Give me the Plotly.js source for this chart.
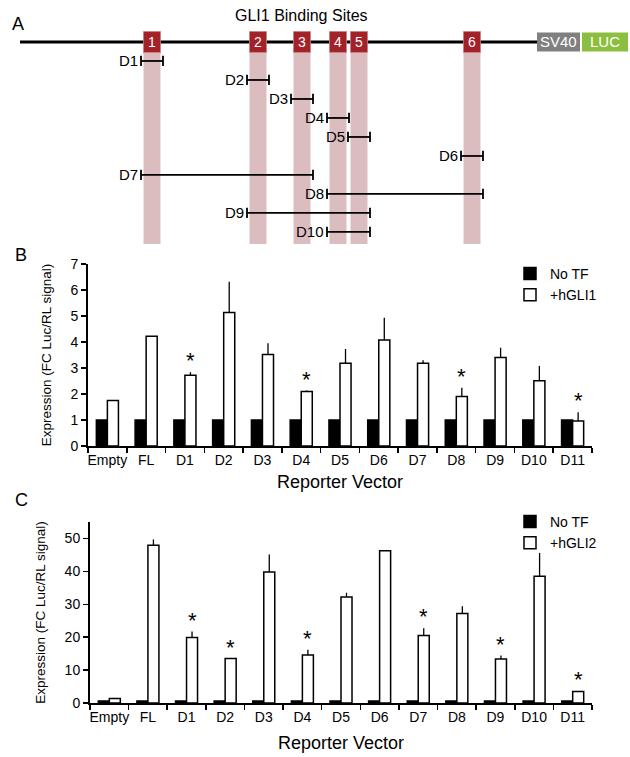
<!DOCTYPE html>
<html>
<head>
<meta charset="utf-8">
<script src="https://cdn.plot.ly/plotly-3.0.1.min.js"></script>
<style>html,body{margin:0;padding:0;background:#fff;}#chart{width:630px;height:757px;}</style>
</head>
<body>
<div id="chart"></div>
<script>
// ---------- DATA ----------
const categories = ['Empty','FL','D1','D2','D3','D4','D5','D6','D7','D8','D9','D10','D11'];

// Panel B: hGLI1
const noTF_B   = [1,1,1,1,1,1,1,1,1,1,1,1,1];
const gli1     = [1.75,4.22,2.72,5.13,3.52,2.10,3.18,4.08,3.18,1.90,3.40,2.51,0.96];
const gli1Err  = [0,0,0.12,1.19,0.43,0.03,0.55,0.85,0.12,0.34,0.38,0.57,0.34];
const gli1Sig  = [0,0,1,0,0,1,0,0,0,1,0,0,1];

// Panel C: hGLI2
const noTF_C   = [0.6,0.6,0.6,0.6,0.6,0.6,0.6,0.6,0.6,0.6,0.6,0.6,0.6];
const gli2     = [1.4,47.9,19.9,13.5,39.8,14.6,32.2,46.3,20.5,27.2,13.4,38.5,3.5];
const gli2Err  = [0,1.8,1.8,0,5.3,1.6,1.3,0.2,2.2,2.2,1.0,7.1,0];
const gli2Sig  = [0,0,1,1,0,1,0,0,1,0,1,0,1];

// Panel A: construct schematic (arbitrary construct units)
const siteNames   = ['1','2','3','4','5','6'];
const sitePos     = [132,238,282,318,339,452];
const backboneLen = 517;
const elementNames = ['SV40','LUC'];
const elementStart = [517,562];
const elementEnd   = [560,608];
const segNames  = ['D1','D2','D3','D4','D5','D6','D7','D8','D9','D10'];
const segFirst  = [1,2,3,4,5,6,1,4,2,4];
const segLast   = [1,2,3,4,5,6,3,6,5,5];

// ---------- STYLE ----------
const FONT = '"Liberation Sans", Arial, sans-serif';
const W = 630, H = 757;
const boxHalfW = 8.5, segPad = 11, capH = 0.27, boxHalfH = 0.55, bandBottom = 10.63;
const elementColors = ['#808080','#8cbf3f'];

const shapes = [];
const annotations = [];

// backbone
shapes.push({type:'line', xref:'x3', yref:'y3', x0:0, x1:backboneLen, y0:0, y1:0, line:{color:'#000', width:3}});
// bands + boxes
sitePos.forEach((p,i)=>{
  shapes.push({type:'rect', xref:'x3', yref:'y3', x0:p-boxHalfW, x1:p+boxHalfW, y0:boxHalfH, y1:bandBottom, fillcolor:'#dcbdbf', line:{width:0}, layer:'below'});
  shapes.push({type:'rect', xref:'x3', yref:'y3', x0:p-boxHalfW, x1:p+boxHalfW, y0:-boxHalfH, y1:boxHalfH, fillcolor:'#a3222a', line:{color:'#c97d80', width:0.8}});
  annotations.push({xref:'x3', yref:'y3', x:p, y:0, text:siteNames[i], showarrow:false, font:{family:FONT, size:14, color:'#fff'}});
});
// SV40 / LUC
elementNames.forEach((n,i)=>{
  shapes.push({type:'rect', xref:'x3', yref:'y3', x0:elementStart[i], x1:elementEnd[i], y0:-0.5, y1:0.5, fillcolor:elementColors[i], line:{width:0}});
  annotations.push({xref:'x3', yref:'y3', x:(elementStart[i]+elementEnd[i])/2, y:0, text:n, showarrow:false, font:{family:FONT, size:15, color:'#fff'}});
});
// deletion segments
segNames.forEach((n,i)=>{
  const row = i+1;
  const x0 = sitePos[segFirst[i]-1]-segPad, x1 = sitePos[segLast[i]-1]+segPad;
  shapes.push({type:'line', xref:'x3', yref:'y3', x0:x0, x1:x1, y0:row, y1:row, line:{color:'#000', width:1.8}});
  shapes.push({type:'line', xref:'x3', yref:'y3', x0:x0, x1:x0, y0:row-capH, y1:row+capH, line:{color:'#000', width:1.8}});
  shapes.push({type:'line', xref:'x3', yref:'y3', x0:x1, x1:x1, y0:row-capH, y1:row+capH, line:{color:'#000', width:1.8}});
  annotations.push({xref:'x3', yref:'y3', x:x0-1, y:row, xanchor:'right', text:n, showarrow:false, font:{family:FONT, size:15, color:'#000'}});
});
annotations.push({xref:'x3', yref:'y3', x:281, y:-1.42, text:'GLI1 Binding Sites', showarrow:false, font:{family:FONT, size:16, color:'#000'}});

// panel letters
[['A',10,12],['B',13,255],['C',13,512]].forEach(l=>{
  annotations.push({xref:'paper', yref:'paper', x:l[1]/W, y:1-l[2]/H, text:l[0], showarrow:false, font:{family:FONT, size:18, color:'#000'}});
});

// asterisks
function stars(vals, errs, sig, xr, yr){
  categories.forEach((c,i)=>{
    if(sig[i]) annotations.push({xref:xr, yref:yr, x:c, y:vals[i]+errs[i], xshift:5.5, yshift:-3, yanchor:'bottom', text:'*', showarrow:false, font:{family:FONT, size:22, color:'#000'}});
  });
}
stars(gli1, gli1Err, gli1Sig, 'x', 'y');
stars(gli2, gli2Err, gli2Sig, 'x2', 'y2');

const barLine = {color:'#000', width:1.5};
const errStyle = (arr)=>({type:'data', symmetric:false, array:arr, arrayminus:arr.map(()=>0), color:'#000', thickness:1.3, width:0});

const traces = [
  {type:'bar', x:categories, y:noTF_B, name:'No TF', xaxis:'x', yaxis:'y', marker:{color:'#000', line:barLine}, legend:'legend'},
  {type:'bar', x:categories, y:gli1, name:'+hGLI1', xaxis:'x', yaxis:'y', marker:{color:'#fff', line:barLine}, error_y:errStyle(gli1Err), legend:'legend'},
  {type:'bar', x:categories, y:noTF_C, name:'No TF', xaxis:'x2', yaxis:'y2', marker:{color:'#000', line:barLine}, legend:'legend2'},
  {type:'bar', x:categories, y:gli2, name:'+hGLI2', xaxis:'x2', yaxis:'y2', marker:{color:'#fff', line:barLine}, error_y:errStyle(gli2Err), legend:'legend2'},
  // invisible trace to anchor schematic axes
  {type:'scatter', x:[0], y:[0], xaxis:'x3', yaxis:'y3', mode:'markers', marker:{opacity:0}, showlegend:false, hoverinfo:'skip'}
];

const xCommon = {type:'category', showline:true, linecolor:'#000', linewidth:2, ticks:'outside', tickson:'boundaries', ticklen:5, tickwidth:1.5, tickcolor:'#000',
  tickangle:0, tickfont:{family:FONT, size:14, color:'#000'}, showgrid:false, zeroline:false, fixedrange:true};
const yCommon = {showline:true, linecolor:'#000', linewidth:2, ticks:'outside', ticklen:5, tickwidth:1.5, tickcolor:'#000',
  tickfont:{family:FONT, size:14, color:'#000'}, showgrid:false, zeroline:false, fixedrange:true};
const legendCommon = {xanchor:'left', yanchor:'top', font:{family:FONT, size:14, color:'#000'}, bgcolor:'rgba(0,0,0,0)', tracegroupgap:0, itemwidth:30};

const layout = {
  width:W, height:H, margin:{l:0,r:0,t:0,b:0}, paper_bgcolor:'#fff', plot_bgcolor:'rgba(0,0,0,0)',
  barmode:'group', bargap:0.43, bargroupgap:0, showlegend:true,
  font:{family:FONT, color:'#000'},
  xaxis: Object.assign({}, xCommon, {domain:[88/W, 592/W], anchor:'y',
    title:{text:'Reporter Vector', font:{family:FONT, size:18, color:'#000'}, standoff:9}}),
  yaxis: Object.assign({}, yCommon, {domain:[1-446/H, 1-264/H], anchor:'x', range:[0,7], dtick:1,
    title:{text:'Expression (FC Luc/RL signal)', font:{family:FONT, size:13.5, color:'#000'}, standoff:16}}),
  xaxis2: Object.assign({}, xCommon, {domain:[90/W, 592/W], anchor:'y2',
    title:{text:'Reporter Vector', font:{family:FONT, size:18, color:'#000'}, standoff:13}}),
  yaxis2: Object.assign({}, yCommon, {domain:[1-703/H, 1-522/H], anchor:'x2', range:[0,55], tickvals:[0,10,20,30,40,50],
    title:{text:'Expression (FC Luc/RL signal)', font:{family:FONT, size:13.5, color:'#000'}, standoff:16}}),
  xaxis3: {domain:[0,1], anchor:'y3', range:[-20,610], visible:false, fixedrange:true},
  yaxis3: {domain:[1-250/H,1], anchor:'x3', range:[10.95,-2.21], visible:false, fixedrange:true},
  legend: Object.assign({}, legendCommon, {x:510/W, y:1-258/H}),
  legend2: Object.assign({}, legendCommon, {x:510/W, y:1-506/H}),
  shapes: shapes,
  annotations: annotations
};

Plotly.newPlot('chart', traces, layout, {displayModeBar:false, staticPlot:true});
</script>
</body>
</html>
